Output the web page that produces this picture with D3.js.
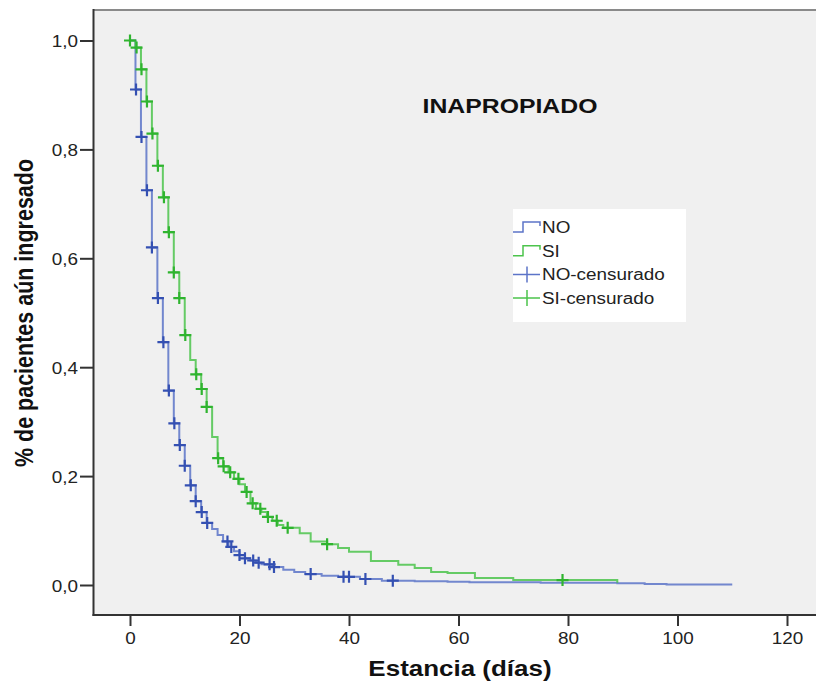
<!DOCTYPE html>
<html>
<head>
<meta charset="utf-8">
<script src="https://cdn.jsdelivr.net/npm/d3@7"></script>
<style>
  body { margin: 0; background: #fff; }
  text { font-family: "Liberation Sans", Arial, sans-serif; }
</style>
</head>
<body>
<svg id="km" width="816" height="686"></svg>
<script>
// Kaplan-Meier: estancia por grupo (INAPROPIADO)

// NO group: step times and survival
var noTimes = [0, 1, 2, 3, 4, 5, 6, 7, 8, 9, 10, 11, 12, 13, 14, 15, 16, 17, 18, 19, 20, 21, 22, 23, 24, 26, 28, 30, 32, 35, 38, 42, 46, 52, 58, 62, 75, 89, 94, 98, 110];
var noSurv  = [1.0, 0.91, 0.823, 0.725, 0.62, 0.527, 0.446, 0.357, 0.297, 0.257, 0.219, 0.183, 0.154, 0.134, 0.114, 0.103, 0.092, 0.08, 0.07, 0.062, 0.055, 0.049, 0.045, 0.041, 0.038, 0.033, 0.028, 0.024, 0.02, 0.017, 0.015, 0.011, 0.008, 0.007, 0.006, 0.005, 0.004, 0.003, 0.002, 0.001, 0.001];
var noCens  = [1.1, 2.1, 3.1, 4.0, 5.1, 6.1, 7.1, 8.1, 9.1, 10.0, 11.1, 12.0, 13.1, 14.1, 17.8, 18.5, 20.0, 21.0, 22.5, 23.5, 25.5, 26.3, 33, 39, 40, 43, 48];

// SI group
var siTimes = [0, 1, 2, 3, 4, 5, 6, 7, 8, 9, 10, 11, 12, 13, 14, 15, 16, 17, 18, 19, 20, 21, 22, 23, 24, 25, 26, 27, 28, 31, 33, 36, 38, 40, 44, 49, 52, 55, 58, 63, 70, 89];
var siSurv  = [1.0, 0.987, 0.947, 0.888, 0.829, 0.77, 0.712, 0.648, 0.574, 0.527, 0.459, 0.413, 0.387, 0.36, 0.327, 0.272, 0.233, 0.218, 0.207, 0.195, 0.185, 0.171, 0.15, 0.14, 0.134, 0.125, 0.118, 0.11, 0.105, 0.095, 0.08, 0.075, 0.068, 0.061, 0.044, 0.037, 0.031, 0.024, 0.022, 0.013, 0.009, 0.004];
var siCens  = [0.0, 1.2, 2.1, 3.1, 4.1, 5.1, 6.2, 7.1, 8.0, 9.0, 10.1, 12.1, 13.1, 14.0, 16.1, 17.1, 18.3, 19.8, 21.3, 22.4, 23.8, 25.2, 26.8, 28.8, 36, 79];

var xTicks = [0, 20, 40, 60, 80, 100, 120];
var yTicks = [0, 0.2, 0.4, 0.6, 0.8, 1.0];
var legendLabels = ["NO", "SI", "NO-censurado", "SI-censurado"];

var blueLine = "#5c74c8", blueMark = "#3450b2";
var greenLine = "#4cc44c", greenMark = "#2fb42f";

var svg = d3.select("#km");

var x = d3.scaleLinear().domain([0, 120]).range([130, 787]);
var y = d3.scaleLinear().domain([0, 1]).range([585, 40.5]);

// plot area
svg.append("rect")
    .attr("x", 94).attr("y", 10)
    .attr("width", 722).attr("height", 605)
    .attr("fill", "#f0f0f0");
svg.append("line")
    .attr("x1", 94).attr("x2", 816).attr("y1", 10).attr("y2", 10)
    .attr("stroke", "#8a8a8a").attr("stroke-width", 2);
svg.append("line")
    .attr("x1", 93.5).attr("x2", 93.5).attr("y1", 9).attr("y2", 616)
    .attr("stroke", "#333").attr("stroke-width", 2);
svg.append("line")
    .attr("x1", 92.5).attr("x2", 816).attr("y1", 615).attr("y2", 615)
    .attr("stroke", "#333").attr("stroke-width", 2);

// axes
var xAxis = svg.append("g")
    .attr("transform", "translate(0,616)")
    .call(d3.axisBottom(x).tickValues(xTicks).tickSize(10).tickPadding(4));
var yAxis = svg.append("g")
    .attr("transform", "translate(93,0)")
    .call(d3.axisLeft(y).tickValues(yTicks).tickSize(13).tickPadding(2)
      .tickFormat(function(d) { return d3.format(".1f")(d).replace(".", ","); }));

[xAxis, yAxis].forEach(function(a) {
  a.select(".domain").remove();
  a.selectAll(".tick line").attr("stroke", "#333").attr("stroke-width", 2);
  a.selectAll(".tick text")
      .attr("font-family", '"Liberation Sans", Arial, sans-serif')
      .attr("font-size", 16)
      .attr("fill", "#222");
});
yAxis.selectAll(".tick text").attr("dy", "0.4em");
xAxis.selectAll(".tick text").attr("dy", "0.9em");

// step curves
var line = d3.line()
    .x(function(d) { return x(d[0]); })
    .y(function(d) { return y(d[1]); })
    .curve(d3.curveStepAfter);

function survAt(times, surv, t) {
  var i = d3.bisectRight(times, t) - 1;
  return surv[Math.max(0, i)];
}

var groups = [
  {times: noTimes, surv: noSurv, cens: noCens, line: blueLine, mark: blueMark},
  {times: siTimes, surv: siSurv, cens: siCens, line: greenLine, mark: greenMark}
];

groups.forEach(function(g) {
  svg.append("path")
      .datum(d3.zip(g.times, g.surv))
      .attr("d", line)
      .attr("fill", "none")
      .attr("stroke", g.line)
      .attr("stroke-width", 2)
      .attr("stroke-opacity", 0.85);
});

groups.forEach(function(g) {
  svg.append("g").selectAll("path")
    .data(g.cens)
    .enter().append("path")
      .attr("d", function(t) {
        var cx = x(t), cy = y(survAt(g.times, g.surv, t));
        return "M" + (cx - 6) + "," + cy + "H" + (cx + 6) +
               "M" + cx + "," + (cy - 6) + "V" + (cy + 6);
      })
      .attr("stroke", g.mark)
      .attr("stroke-width", 2.2)
      .attr("fill", "none");
});

// title
svg.append("text")
    .attr("x", 510).attr("y", 113)
    .attr("text-anchor", "middle")
    .attr("font-weight", "bold")
    .attr("font-size", 21)
    .attr("fill", "#111")
    .text("INAPROPIADO");

// legend
svg.append("rect")
    .attr("x", 513).attr("y", 209)
    .attr("width", 173).attr("height", 113)
    .attr("fill", "#fff");

var legend = svg.append("g").selectAll("g")
    .data(legendLabels)
    .enter().append("g")
      .attr("transform", function(d, i) { return "translate(513," + (227 + i * 23.7) + ")"; });

legend.append("path")
    .attr("d", function(d, i) {
      return i < 2 ? "M0,5H10V-5H27V-1" : "M0,0H27M14,-8V8";
    })
    .attr("fill", "none")
    .attr("stroke", function(d, i) { return i % 2 === 0 ? blueLine : greenLine; })
    .attr("stroke-width", 1.5);

legend.append("text")
    .attr("x", 29)
    .attr("y", 6)
    .attr("font-size", 16)
    .attr("fill", "#222")
    .text(function(d) { return d; });

// axis titles
svg.append("text")
    .attr("x", 460).attr("y", 676)
    .attr("text-anchor", "middle")
    .attr("font-weight", "bold")
    .attr("font-size", 22)
    .attr("fill", "#111")
    .text("Estancia (días)");

svg.append("text")
    .attr("class", "ytitle")
    .attr("transform", "translate(33,313) rotate(-90) scale(1,1.18)")
    .attr("text-anchor", "middle")
    .attr("font-weight", "bold")
    .attr("font-size", 21.5)
    .attr("fill", "#111")
    .text("% de pacientes aún ingresado");

// source picture is stretched sideways, widen the horizontal texts
svg.selectAll("text").filter(function() { return !this.classList.contains("ytitle"); })
    .each(function() {
      var w = this.getComputedTextLength();
      d3.select(this).attr("textLength", w * 1.18).attr("lengthAdjust", "spacingAndGlyphs");
    });
</script>
</body>
</html>
